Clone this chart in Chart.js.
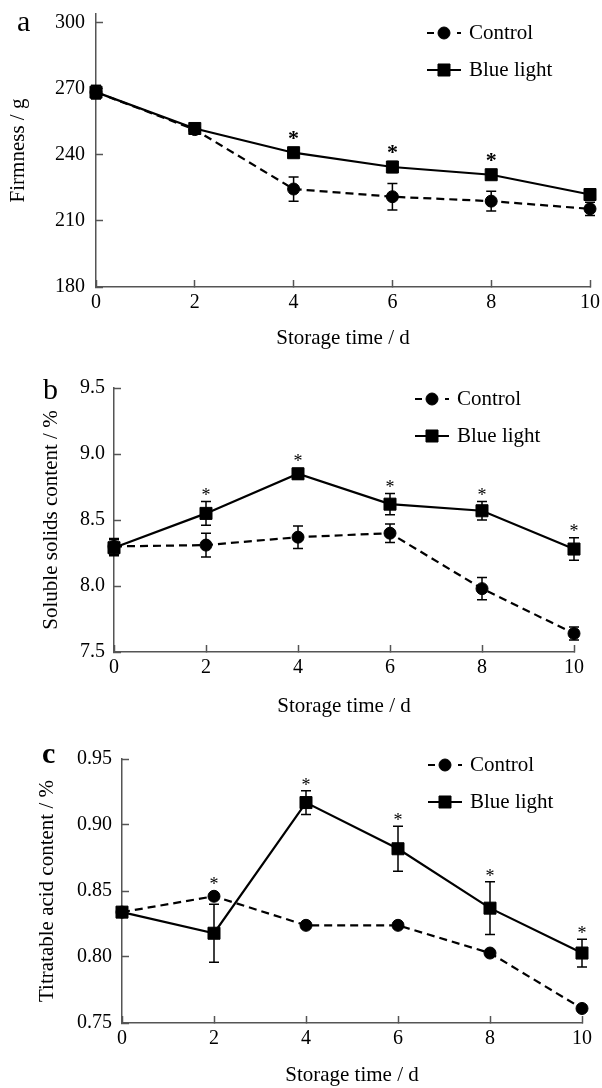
<!DOCTYPE html>
<html>
<head>
<meta charset="utf-8">
<script src="https://cdn.jsdelivr.net/npm/chart.js@4"></script>
<style>
  html, body { margin: 0; padding: 0; background: #fff; }
  body { position: relative; width: 602px; height: 1088px; overflow: hidden; }
  canvas { position: absolute; left: 0; }
</style>
</head>
<body>
<canvas id="chartA" width="602" height="360" style="top:0px"></canvas>
<canvas id="chartB" width="602" height="350" style="top:370px"></canvas>
<canvas id="chartC" width="602" height="368" style="top:720px"></canvas>
<script>
// ============== Data
const days = [0, 2, 4, 6, 8, 10];

// a - firmness (g)
const firmTicks      = [180, 210, 240, 270, 300];
const firmControl    = [268.5, 251.5, 224.5, 221.0, 219.0, 215.5];
const firmControlErr = [3, 2, 5.5, 6, 4.5, 3];
const firmBlue       = [268.5, 252.0, 241.0, 234.5, 231.0, 222.0];
const firmBlueErr    = [3, 2, 1.5, 2.5, 1.5, 1.5];
const firmControlStar = [0, 0, 0, 0, 0, 0];
const firmBlueStar    = [0, 0, 1, 1, 1, 0];

// b - soluble solids content (%)
const sscTicks      = [7.5, 8.0, 8.5, 9.0, 9.5];
const sscControl    = [8.30, 8.31, 8.37, 8.40, 7.98, 7.64];
const sscControlErr = [0.06, 0.09, 0.085, 0.07, 0.085, 0.05];
const sscBlue       = [8.29, 8.55, 8.85, 8.62, 8.57, 8.28];
const sscBlueErr    = [0.06, 0.09, 0.04, 0.08, 0.07, 0.085];
const sscControlStar = [0, 0, 0, 0, 0, 0];
const sscBlueStar    = [0, 1, 1, 1, 1, 1];

// c - titratable acid content (%)
const taTicks      = [0.75, 0.80, 0.85, 0.90, 0.95];
const taControl    = [0.834, 0.846, 0.824, 0.824, 0.803, 0.761];
const taControlErr = [0.002, 0.002, 0.002, 0.002, 0.002, 0.002];
const taBlue       = [0.834, 0.818, 0.917, 0.882, 0.837, 0.803];
const taBlueErr    = [0.002, 0.022, 0.009, 0.017, 0.020, 0.0105];
const taControlStar = [0, 1, 0, 0, 0, 0];
const taBlueStar    = [0, 0, 1, 1, 1, 1];

const seriesNames = ['Control', 'Blue light'];

const SERIF = "'Liberation Serif', 'Times New Roman', serif";
Chart.defaults.font.family = SERIF;
Chart.defaults.color = '#000';

const toPoints = (vals) => days.map((d, i) => ({ x: d, y: vals[i] }));

// ============== Plugins
const errorBars = {
  id: 'errorBars',
  beforeDatasetsDraw(chart) {
    const ctx = chart.ctx;
    const yScale = chart.scales.y;
    chart.data.datasets.forEach((ds, di) => {
      const meta = chart.getDatasetMeta(di);
      ctx.save();
      ctx.strokeStyle = '#000';
      ctx.lineWidth = 1.5;
      meta.data.forEach((pt, i) => {
        const e = ds.errors[i];
        if (!e) return;
        const top = yScale.getPixelForValue(ds.data[i].y + e);
        const bot = yScale.getPixelForValue(ds.data[i].y - e);
        ctx.beginPath();
        ctx.moveTo(pt.x, top); ctx.lineTo(pt.x, bot);
        ctx.moveTo(pt.x - 5, top); ctx.lineTo(pt.x + 5, top);
        ctx.moveTo(pt.x - 5, bot); ctx.lineTo(pt.x + 5, bot);
        ctx.stroke();
      });
      ctx.restore();
    });
  }
};

const stars = {
  id: 'stars',
  afterDatasetsDraw(chart, args, opts) {
    const ctx = chart.ctx;
    const yScale = chart.scales.y;
    chart.data.datasets.forEach((ds, di) => {
      const meta = chart.getDatasetMeta(di);
      ctx.save();
      ctx.fillStyle = '#000';
      ctx.font = opts.font;
      ctx.textAlign = 'center';
      ctx.textBaseline = 'alphabetic';
      meta.data.forEach((pt, i) => {
        if (!ds.stars[i]) return;
        const top = Math.min(yScale.getPixelForValue(ds.data[i].y + ds.errors[i]), pt.y - 6);
        ctx.fillText('*', pt.x, top - opts.lift);
      });
      ctx.restore();
    });
  }
};

const sideLegend = {
  id: 'sideLegend',
  afterDraw(chart, args, opts) {
    const ctx = chart.ctx;
    chart.data.datasets.forEach((ds, i) => {
      const y = opts.top + i * 37;
      ctx.save();
      ctx.strokeStyle = '#000';
      ctx.fillStyle = '#000';
      ctx.lineWidth = ds.borderWidth;
      // dashed sample reads "- ● ·" like the original key
      ctx.setLineDash(ds.borderDash ? [7, 23, 4, 10] : []);
      ctx.beginPath();
      ctx.moveTo(opts.left, y);
      ctx.lineTo(opts.left + 34, y);
      ctx.stroke();
      ctx.setLineDash([]);
      ctx.lineWidth = 1;
      Chart.helpers.drawPoint(ctx, { pointStyle: ds.pointStyle, radius: ds.pointRadius, borderWidth: 1, rotation: 0 }, opts.left + 17, y);
      ctx.font = '21px ' + SERIF;
      ctx.textAlign = 'left';
      ctx.textBaseline = 'middle';
      ctx.fillText(ds.label, opts.left + 42, y);
      ctx.restore();
    });
  }
};

const panelLabel = {
  id: 'panelLabel',
  afterDraw(chart, args, opts) {
    const ctx = chart.ctx;
    ctx.save();
    ctx.fillStyle = '#000';
    ctx.font = opts.font;
    ctx.textAlign = 'left';
    ctx.textBaseline = 'alphabetic';
    ctx.fillText(opts.text, opts.x, opts.y);
    ctx.restore();
  }
};

// drop the label-overflow padding so the layout padding alone places the plot
const noScalePadding = (scale) => {
  scale.paddingTop = 0;
  scale.paddingBottom = 0;
  scale.paddingLeft = 0;
  scale.paddingRight = 0;
};

// ============== Chart builder
const makeDatasets = (ctrl, ctrlErr, ctrlStar, blue, blueErr, blueStar) => ([
  {
    label: seriesNames[0],
    data: toPoints(ctrl),
    errors: ctrlErr,
    stars: ctrlStar,
    borderColor: '#000',
    backgroundColor: '#000',
    borderWidth: 2.2,
    borderDash: [8, 5],
    pointStyle: 'circle',
    pointRadius: 6,
    pointBorderWidth: 1,
    order: 1,
    clip: false,
  },
  {
    label: seriesNames[1],
    data: toPoints(blue),
    errors: blueErr,
    stars: blueStar,
    borderColor: '#000',
    backgroundColor: '#000',
    borderWidth: 2.2,
    pointStyle: 'rect',
    pointRadius: 8.5,
    pointBorderWidth: 1,
    order: 0,
    clip: false,
  }
]);

const makeChart = (id, p) => {
  const ctx = document.getElementById(id).getContext('2d');
  const axisLine = { display: true, color: '#555', width: 1.5 };
  const grid = { display: true, drawOnChartArea: false, drawTicks: true, tickLength: -7, tickColor: '#555', tickWidth: 1.5 };

  const config = {
    type: 'line',
    data: { datasets: p.datasets },
    options: {
      responsive: false,
      animation: false,
      events: [],
      layout: { padding: { top: p.padTop, right: p.padRight, bottom: 0, left: 0 } },
      plugins: {
        legend: { display: false },
        tooltip: { enabled: false },
        stars: p.stars,
        sideLegend: p.legend,
        panelLabel: p.label,
      },
      scales: {
        x: {
          type: 'linear',
          min: 0,
          max: 10,
          border: axisLine,
          grid: grid,
          ticks: { padding: 11, font: { size: 20 } },
          title: { display: true, text: 'Storage time / d', font: { size: 21 }, padding: { top: 0, bottom: p.xTitlePad } },
          afterBuildTicks: (scale) => { scale.ticks = days.map(v => ({ value: v })); },
          afterFit: (scale) => { scale.height = p.xHeight; noScalePadding(scale); },
        },
        y: {
          min: p.yMin,
          max: p.yMax,
          border: axisLine,
          grid: grid,
          ticks: { padding: p.yTickPad, font: { size: 20 }, callback: p.yFmt },
          title: { display: true, text: p.yTitle, font: { size: 21 }, padding: { top: p.yTitlePad, bottom: 0 } },
          afterBuildTicks: (scale) => { scale.ticks = p.yTicks.map(v => ({ value: v })); },
          afterFit: (scale) => { scale.width = p.yWidth; noScalePadding(scale); },
        }
      }
    },
    plugins: [errorBars, stars, sideLegend, panelLabel]
  };
  return new Chart(ctx, config);
};

document.addEventListener('DOMContentLoaded', () => {
  makeChart('chartA', {
    datasets: makeDatasets(firmControl, firmControlErr, firmControlStar, firmBlue, firmBlueErr, firmBlueStar),
    padTop: 14, padRight: 12, xHeight: 73, xTitlePad: 9, yWidth: 96,
    yMin: 180, yMax: 304, yTicks: firmTicks, yTickPad: 18, yTitlePad: 6,
    yFmt: (v) => String(v),
    yTitle: 'Firmness / g',
    stars: { font: 'bold 22px ' + SERIF, lift: 2 },
    legend: { left: 427, top: 33 },
    label: { text: 'a', x: 17, y: 31, font: '30px ' + SERIF },
  });

  makeChart('chartB', {
    datasets: makeDatasets(sscControl, sscControlErr, sscControlStar, sscBlue, sscBlueErr, sscBlueStar),
    padTop: 18, padRight: 28, xHeight: 68, xTitlePad: 1, yWidth: 114,
    yMin: 7.5, yMax: 9.5, yTicks: sscTicks, yTickPad: 16, yTitlePad: 39,
    yFmt: (v) => v.toFixed(1),
    yTitle: 'Soluble solids content / %',
    stars: { font: '18px ' + SERIF, lift: 1 },
    legend: { left: 415, top: 29 },
    label: { text: 'b', x: 43, y: 29, font: '30px ' + SERIF },
  });

  makeChart('chartC', {
    datasets: makeDatasets(taControl, taControlErr, taControlStar, taBlue, taBlueErr, taBlueStar),
    padTop: 39, padRight: 20, xHeight: 65, xTitlePad: 0, yWidth: 122,
    yMin: 0.75, yMax: 0.95, yTicks: taTicks, yTickPad: 17, yTitlePad: 35,
    yFmt: (v) => v.toFixed(2),
    yTitle: 'Titratable acid content / %',
    stars: { font: '18px ' + SERIF, lift: 0 },
    legend: { left: 428, top: 45 },
    label: { text: 'c', x: 42, y: 43, font: 'bold 30px ' + SERIF },
  });
});
</script>
</body>
</html>
